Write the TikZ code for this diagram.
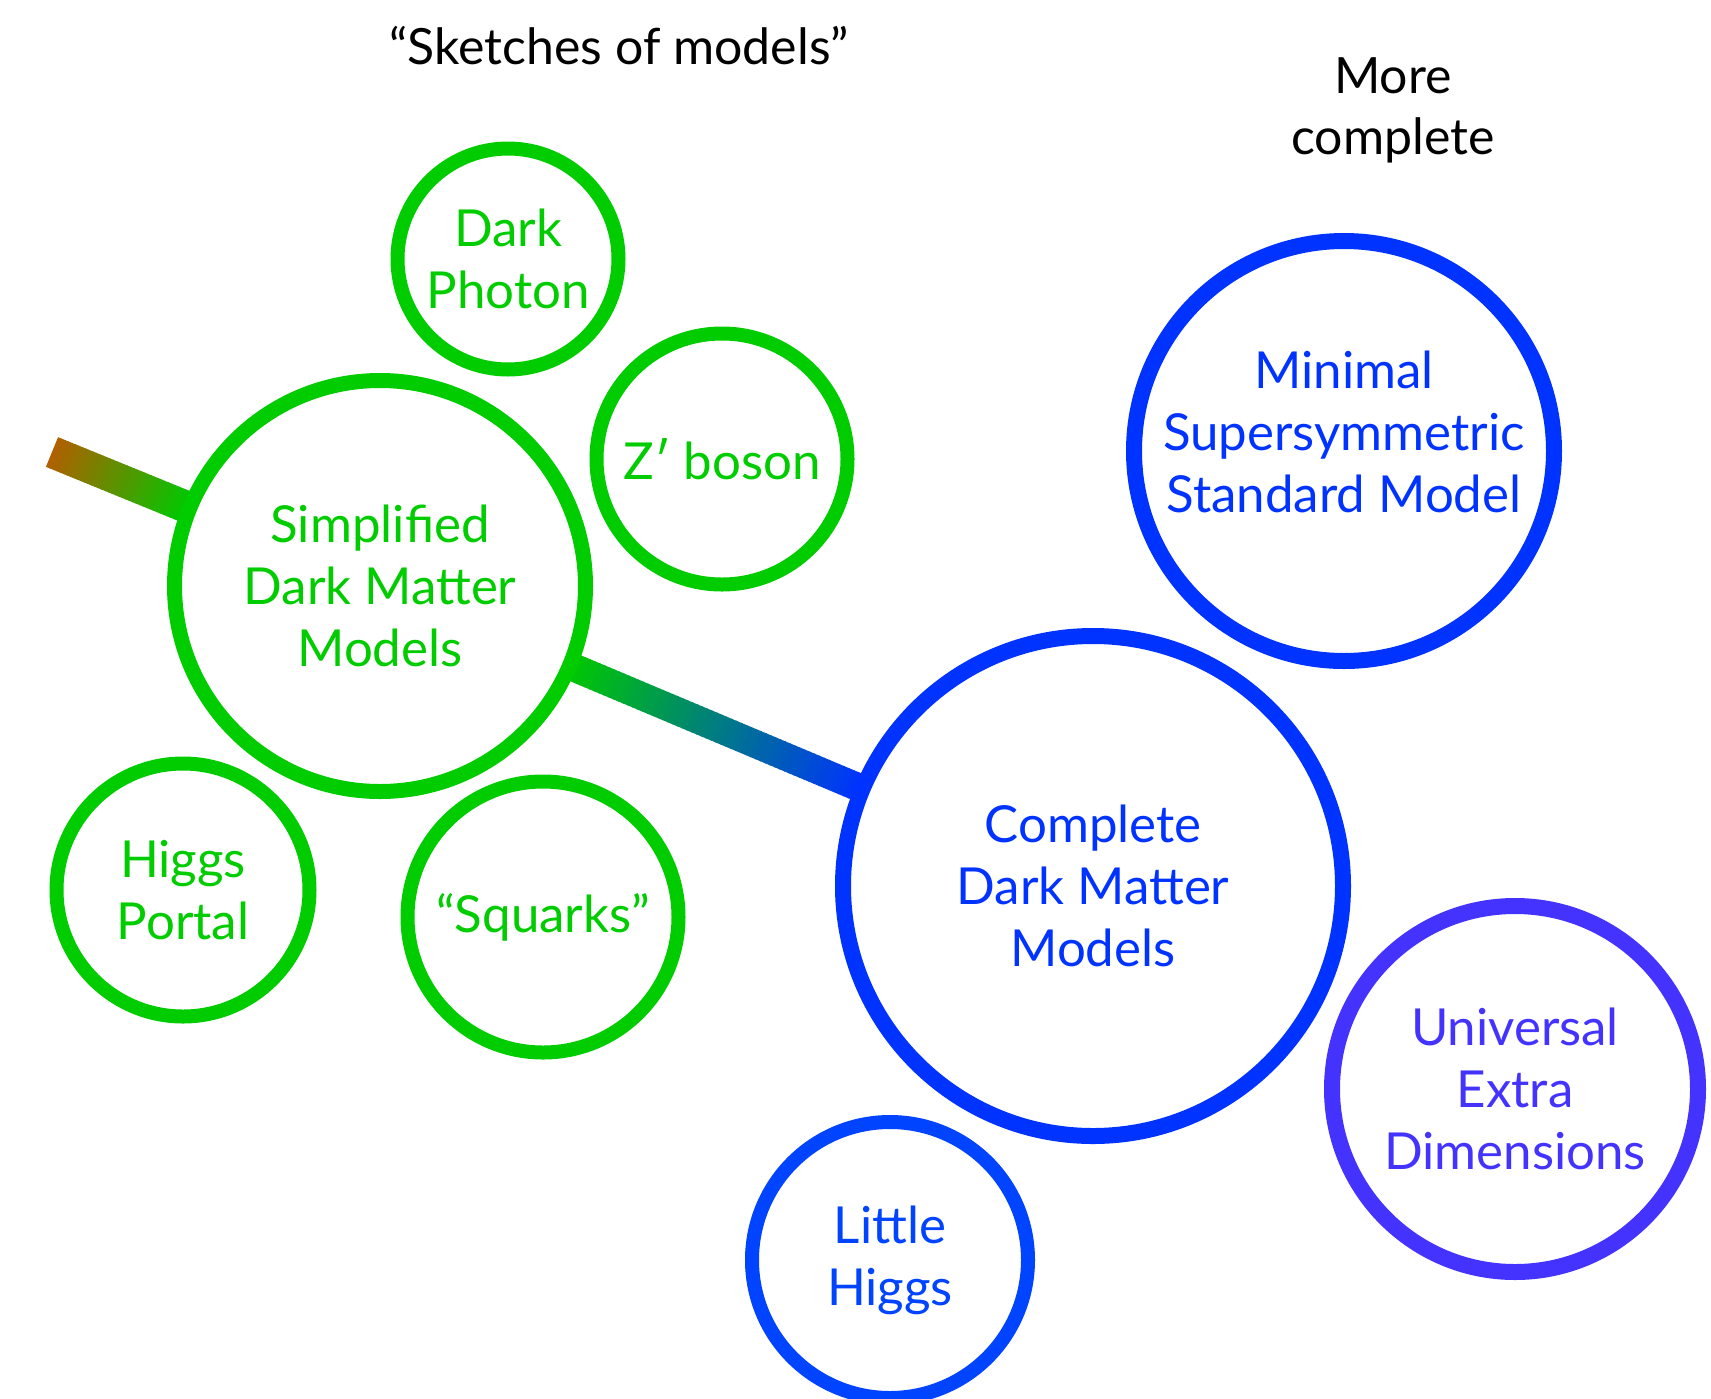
\documentclass[tikz,border=0pt]{standalone}
\usepackage{fontspec}
\setmainfont{Lato}
\usetikzlibrary{calc}
\pgfdeclarelayer{bg}
\pgfsetlayers{bg,main}
\definecolor{dmgreen}{RGB}{0,204,0}
\definecolor{dmblue}{RGB}{0,51,255}
\definecolor{lhblue}{RGB}{0,68,255}
\definecolor{uedviolet}{RGB}{68,51,255}
\definecolor{stubbrown}{RGB}{176,96,0}
\definecolor{bargreen}{RGB}{0,200,0}
\tikzset{
  bubble/.style={circle, draw, inner sep=0pt, outer sep=0pt, align=center,
    font=\fontsize{51}{62}\selectfont},
  greenbubble/.style={bubble, draw=dmgreen, text=dmgreen, line width=14pt},
  bluebubble/.style={bubble, draw=dmblue, text=dmblue, line width=16pt},
  heading/.style={align=center, text=black, font=\fontsize{50}{61}\selectfont},
}
\begin{document}
\begin{tikzpicture}[x=1pt,y=-1pt]
\useasboundingbox (0,0) rectangle (1711,1398);

\node[heading] (title) at (619,46) {“Sketches of models”};
\node[heading] (more) at (1393,110) {More\\complete};

\node[greenbubble, minimum size=221pt] (photon) at (508,259) {Dark\\Photon};
\node[greenbubble, minimum size=251pt] (zprime) at (722,459) {Z′ boson};
\node[greenbubble, line width=15pt, minimum size=411pt] (simp) at (380,586) {Simplified\\Dark Matter\\Models};
\node[greenbubble, minimum size=253pt] (portal) at (183,890) {Higgs\\Portal};
\node[greenbubble, minimum size=271pt] (squarks) at (543,917) {“Squarks”};

\node[bluebubble, minimum size=500pt] (comp) at (1093,886) {Complete\\Dark Matter\\Models};
\node[bluebubble, minimum size=420pt] (mssm) at (1344,451) {};
\node[align=center, text=dmblue, font=\fontsize{51}{62}\selectfont] (mssmtext) at (1344,432) {Minimal\\Supersymmetric\\Standard Model};
\node[bluebubble, draw=uedviolet, text=uedviolet, minimum size=366pt] (ued) at (1515,1089) {Universal\\Extra\\Dimensions};
\node[bluebubble, draw=lhblue, text=lhblue, line width=14pt, minimum size=276pt] (lhiggs) at (890,1260) {Little\\Higgs};

\coordinate (stubend) at (52,452);
\path (simp) -- (comp) coordinate[pos=0] (m0) coordinate[pos=1] (m1);
\path (stubend) -- (simp) coordinate[pos=0] (l0) coordinate[pos=1] (l1);

\begin{pgfonlayer}{bg}
\fill[white] (0,0) rectangle (1711,1398);
\foreach \i in {0,...,59}{
  \pgfmathtruncatemacro\p{100-\i*100/59}
  \draw[line width=28pt, color=bargreen!\p!dmblue]
    ($(m0)!{\i/60}!(m1)$) -- ($(m0)!{(\i+1.3)/60}!(m1)$);
}
\foreach \i in {0,...,39}{
  \pgfmathtruncatemacro\p{100-\i*100/39}
  \draw[line width=32pt, color=stubbrown!\p!bargreen]
    ($(l0)!{\i/40}!(l1)$) -- ($(l0)!{min(1,(\i+1.3)/40)}!(l1)$);
}
\end{pgfonlayer}
\end{tikzpicture}
\end{document}
